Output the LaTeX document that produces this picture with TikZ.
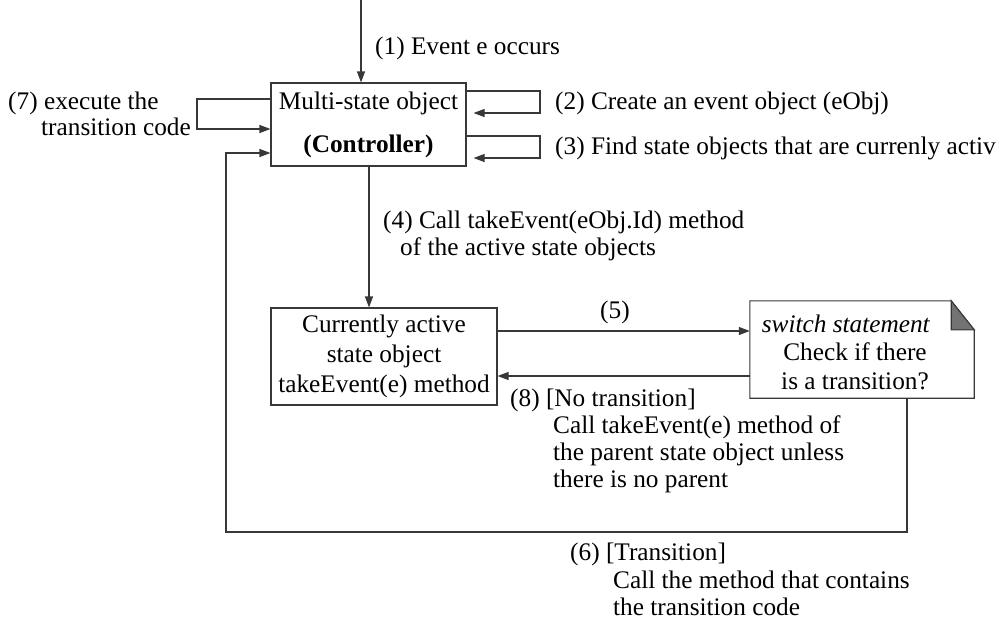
\documentclass[tikz,border=0pt]{standalone}
\usepackage{fontspec}
\setmainfont{Liberation Serif}
\usetikzlibrary{arrows.meta}
\begin{document}
\begin{tikzpicture}[x=1pt,y=-1pt,
  line/.style={draw=black!78,line width=1.1pt},
  arr/.style={line,-{Triangle[length=11pt,width=8pt]}},
  box/.style={line,rectangle,inner sep=0pt,align=center,fill=white},
  lbl/.style={anchor=base west,inner sep=0pt},
  every node/.style={font=\fontsize{25.3}{27}\selectfont}]
\useasboundingbox (0,0) rectangle (1001,627);
\clip (0,0) rectangle (1001,627);
% boxes
\node[box,minimum width=195pt,minimum height=83pt] (ctrl) at (368.5,124.5)
  {Multi-state object\\[16pt]\textbf{(Controller)}};
\node[box,minimum width=226pt,minimum height=97pt] (act) at (384,356.5)
  {Currently active\\[3pt]state object\\[3pt]takeEvent(e) method};
\node[rectangle,inner sep=0pt,minimum width=224pt,minimum height=97pt] (sw) at (862,349.5) {};
\draw[line] (sw.north west) -- ([xshift=-23pt]sw.north east) -- ([yshift=-29pt]sw.north east)
  -- (sw.south east) -- (sw.south west) -- cycle;
\fill[black!55,draw=black!78,line width=1.1pt] ([xshift=-23pt]sw.north east) -- ([xshift=-23pt,yshift=-29pt]sw.north east) -- ([yshift=-29pt]sw.north east) -- cycle;
\node[inner sep=0pt,align=center] (swt) at (855,352)
  {\hspace*{-18pt}\textit{switch statement}\\[1.5pt]Check if there\\[1.5pt]is a transition?};
% connectors
\coordinate (in) at (361,0);
\draw[arr] (in) -- (in |- ctrl.north);
\draw[arr,shorten >=7pt] (ctrl.east |- 0,91) -- (540,91) -- (540,113) -- (ctrl.east |- 0,113);
\draw[arr,shorten >=7pt] (ctrl.east |- 0,136) -- (540,136) -- (540,158) -- (ctrl.east |- 0,158);
\draw[arr] (ctrl.west |- 0,99) -- (197,99) -- (197,129) -- (ctrl.west |- 0,129);
\draw[arr] (ctrl.south -| 369,0) -- (act.north -| 369,0);
\draw[arr] (act.east |- 0,331) -- (sw.west |- 0,331);
\draw[arr] (sw.west |- 0,376) -- (act.east |- 0,376);
\draw[arr] (sw.south -| 907,0) -- (907,532) -- (226,532) -- (226,153) -- (ctrl.west |- 0,153);
% labels
\node[lbl] (l1) at (375,54) {(1) Event e occurs};
\node[lbl] (l2) at (555,109) {(2) Create an event object (eObj)};
\node[lbl] (l3) at (555,154) {(3) Find state objects that are currenly activ};
\node[lbl] (l7a) at (8,109) {(7) execute the};
\node[lbl] (l7b) at (41,135) {transition code};
\node[lbl] (l4a) at (383,228) {(4) Call takeEvent(eObj.Id) method};
\node[lbl] (l4b) at (400,255) {of the active state objects};
\node[lbl] (l5) at (600,318) {(5)};
\node[lbl] (l8a) at (510,406) {(8) [No transition]};
\node[lbl] (l8b) at (553,433) {Call takeEvent(e) method of};
\node[lbl] (l8c) at (553,460) {the parent state object unless};
\node[lbl] (l8d) at (553,487) {there is no parent};
\node[lbl] (l6a) at (570,560) {(6) [Transition]};
\node[lbl] (l6b) at (613,588) {Call the method that contains};
\node[lbl] (l6c) at (613,615) {the transition code};
\end{tikzpicture}
\end{document}
